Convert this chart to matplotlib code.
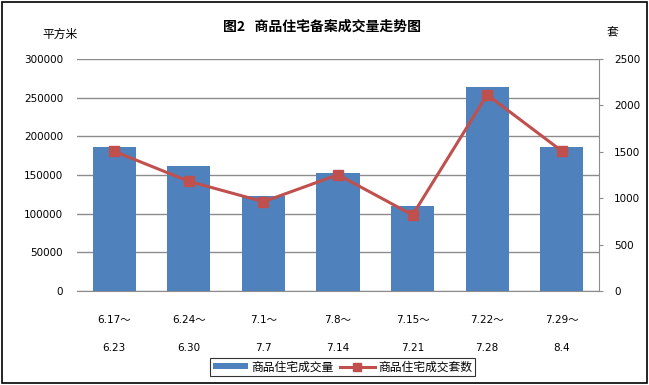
import matplotlib
matplotlib.use("Agg")
import matplotlib.pyplot as plt
from matplotlib.patches import Rectangle
from matplotlib.lines import Line2D
from matplotlib.patches import Patch

plt.rcParams['font.family'] = ['DejaVu Sans', 'Noto Sans CJK SC']

categories = ["6.17～\n\n6.23", "6.24～\n\n6.30", "7.1～\n\n7.7", "7.8～\n\n7.14",
              "7.15～\n\n7.21", "7.22～\n\n7.28", "7.29～\n\n8.4"]
area = [186000, 161000, 123000, 152000, 110500, 263500, 186000]
units = [1505, 1182, 962, 1253, 819, 2115, 1509]
left_ticks = [0, 50000, 100000, 150000, 200000, 250000, 300000]
right_ticks = [0, 500, 1000, 1500, 2000, 2500]

bar_color = "#4F81BD"
line_color = "#C0504D"
cjk = ['Noto Sans CJK SC', 'DejaVu Sans']

W, H = 649, 385
fig = plt.figure(figsize=(W / 100, H / 100), dpi=100)
ax = fig.add_axes([77 / W, 1 - 291 / H, (599 - 77) / W, (291 - 59) / H])
x = list(range(len(categories)))
ax.bar(x, area, width=0.58, color=bar_color, zorder=2)
ax.set_xlim(-0.5, len(categories) - 0.5)
ax.set_ylim(0, 300000)
ax.set_yticks(left_ticks)
ax.set_yticklabels([str(v) for v in left_ticks], fontsize=7.5)
ax.yaxis.grid(True, color="#8C8C8C", linewidth=1.0, zorder=0)
ax.set_axisbelow(True)
ax.tick_params(axis='y', length=0, pad=10)
ax.set_xticks(x)
ax.set_xticklabels(categories, fontsize=7.5, linespacing=1.5)
ax.tick_params(axis='x', length=0, pad=17)
for s in ['left', 'top', 'right']:
    ax.spines[s].set_visible(False)
ax.spines['bottom'].set_color("#8C8C8C")

ax2 = ax.twinx()
ax2.plot(x, units, color=line_color, linewidth=2.2, marker='s', markersize=6.5,
         markerfacecolor=line_color, markeredgecolor=line_color, zorder=3)
ax2.set_ylim(0, 2500)
ax2.set_yticks(right_ticks)
ax2.set_yticklabels([str(v) for v in right_ticks], fontsize=7.5)
ax2.tick_params(axis='y', length=3, color="#8C8C8C", pad=8)
for s in ['left', 'top', 'bottom']:
    ax2.spines[s].set_visible(False)
ax2.spines['right'].set_color("#8C8C8C")

fig.text(322 / W, 1 - 27 / H, "图2   商品住宅备案成交量走势图", ha='center', va='center',
         fontsize=10, fontweight='bold', family=cjk)
fig.text(60 / W, 1 - 34 / H, "平方米", ha='center', va='center', fontsize=8.5, family=cjk)
fig.text(612 / W, 1 - 33 / H, "套", ha='center', va='center', fontsize=8.5, family=cjk)

handles = [Patch(facecolor=bar_color, edgecolor='none'),
           Line2D([0], [0], color=line_color, linewidth=2.2, marker='s', markersize=6)]
leg = fig.legend(handles, ["商品住宅成交量", "商品住宅成交套数"], loc='center',
                 bbox_to_anchor=(342.5 / W, 1 - 367 / H), ncol=2, frameon=True,
                 fancybox=False, edgecolor='black', prop={'family': cjk, 'size': 8.5},
                 handlelength=3.0, handleheight=0.45, handletextpad=0.25, columnspacing=0.5,
                 borderpad=0.25, borderaxespad=0)
leg.get_frame().set_linewidth(0.8)

fig.patches.append(Rectangle((2 / W, 2 / H), 1 - 4 / W, 1 - 4 / H, transform=fig.transFigure,
                             fill=False, edgecolor='black', linewidth=1.2))

fig.savefig("out.png", dpi=100)
